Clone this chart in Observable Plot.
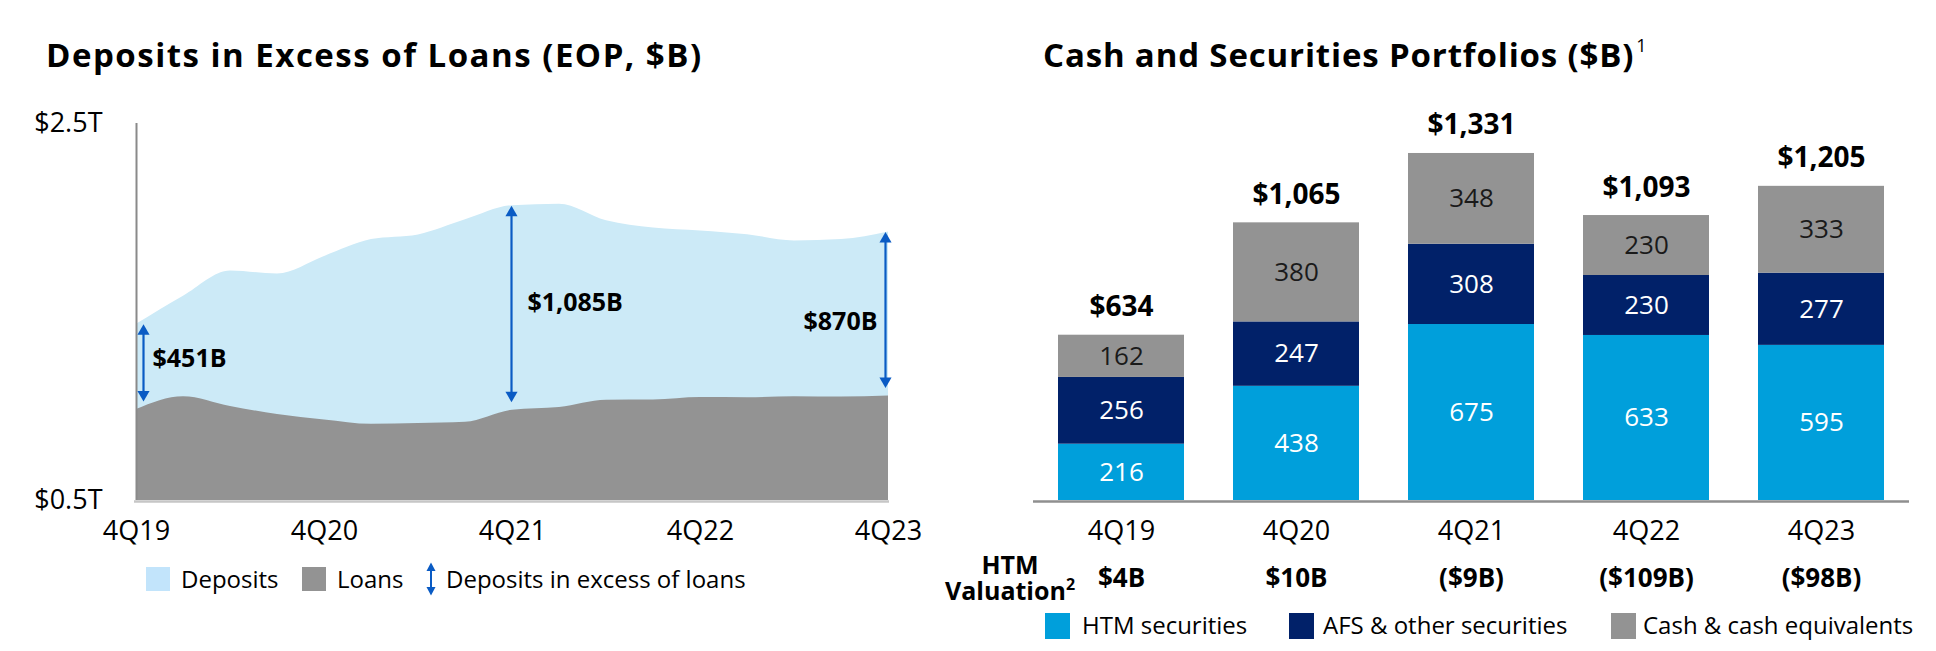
<!DOCTYPE html>
<html><head><meta charset="utf-8">
<script src="https://cdn.jsdelivr.net/npm/d3@7"></script>
<script src="https://cdn.jsdelivr.net/npm/@observablehq/plot@0.6"></script>
<style>
html,body{margin:0;padding:0;background:#fff;}
#root{position:relative;width:1936px;height:651px;overflow:hidden;font-family:"Open Sans",sans-serif;color:#000;}
.abs{position:absolute;white-space:nowrap;}
.title{font-size:33px;font-weight:700;line-height:33px;top:38px;}
.leg{font-size:24px;line-height:24px;}
.sw{position:absolute;}
#left,#right{position:absolute;}
#left{left:0;top:100px;}
#right{left:968px;top:100px;}
</style></head><body><div id="root">
<div class="abs title" style="left:46px;letter-spacing:1.5px;">Deposits in Excess of Loans (EOP, $B)</div>
<div class="abs title" style="left:1043px;letter-spacing:0.85px;">Cash and Securities Portfolios ($B)<span style="font-size:18px;font-weight:400;position:relative;top:-15px;margin-left:2px;">1</span></div>
<div id="left"></div>
<div id="right"></div>
<div class="abs" style="left:940px;width:140px;top:552px;text-align:center;font-size:25px;line-height:25px;font-weight:700;">HTM</div>
<div class="abs" style="left:940px;width:140px;top:578px;text-align:center;font-size:25px;line-height:25px;font-weight:700;">Valuation<span style="font-size:16px;position:relative;top:-10px;">2</span></div>
</div>
<script>
// ---------- Left chart data (EOP, $B) ----------
const quarters = ["4Q19","1Q20","2Q20","3Q20","4Q20","1Q21","2Q21","3Q21","4Q21","1Q22","2Q22","3Q22","4Q22","1Q23","2Q23","3Q23","4Q23"];
const deposits = [1435,1584,1718,1702,1795,1884,1909,1989,2064,2072,1984,1945,1930,1910,1877,1884,1924];
const loans    = [983,1051,999,956,927,904,908,915,979,993,1032,1033,1046,1045,1051,1049,1054];
const axisQuarters = ["4Q19","4Q20","4Q21","4Q22","4Q23"];
const yTicks = [500, 2500];
const yTickLabels = ["$0.5T", "$2.5T"];
const gapQuarters = ["4Q19","4Q21","4Q23"];
const gapLabels = ["$451B","$1,085B","$870B"];
const leftLegend = ["Deposits","Loans","Deposits in excess of loans"];

// ---------- Right chart data ($B) ----------
const barQuarters = ["4Q19","4Q20","4Q21","4Q22","4Q23"];
const htm  = [216, 438, 675, 633, 595];
const afs  = [256, 247, 308, 230, 277];
const cash = [162, 380, 348, 230, 333];
const seriesNames = ["HTM securities","AFS & other securities","Cash & cash equivalents"];
const htmValuation = ["$4B","$10B","($9B)","($109B)","($98B)"];

// ---------- styles ----------
const DEP = "#CCEAF7", LOAN = "#939393", ARROW = "#0A5BC4";
const COLORS = ["#009FDB", "#012169", "#939393"];
const FONT = "Open Sans";

// ---------- Left chart ----------
const areaRows = quarters.map((q, i) => ({q, dep: deposits[i], loan: loans[i]}));
const gapRows = gapQuarters.map((q, k) => {
  const i = quarters.indexOf(q);
  return {q, top: deposits[i], bot: loans[i], label: gapLabels[k]};
});
const arrowStyle = [
  {dx: 7, ldx: 16, ldy: -8, anchor: "start"},
  {dx: -1, ldx: 15, ldy: -5, anchor: "start"},
  {dx: -3, ldx: -11, ldy: 8, anchor: "end"}
];
const arrowMarks = gapRows.flatMap((r, k) => {
  const s = arrowStyle[k];
  return [
    Plot.ruleX([r], {x: "q", y1: "top", y2: "bot", stroke: ARROW, strokeWidth: 2.2, dx: s.dx, insetTop: 8, insetBottom: 16}),
    Plot.dot([r], {x: "q", y: "top", symbol: "triangle", r: 4.5, fill: ARROW, dx: s.dx, dy: 7}),
    Plot.dot([r], {x: "q", y: "bot", symbol: "triangle", r: 4.5, fill: ARROW, dx: s.dx, dy: -15, rotate: 180}),
    Plot.text([r], {x: "q", y: d => (d.top + d.bot) / 2, text: "label", dx: s.ldx, dy: s.ldy, textAnchor: s.anchor, fontSize: 25, fontWeight: 700, fill: "#000"})
  ];
});

const left = Plot.plot({
  width: 968, height: 460,
  marginLeft: 134, marginRight: 79, marginTop: 23, marginBottom: 60,
  style: {fontFamily: FONT, fontSize: "27px", color: "#000", background: "transparent", overflow: "visible"},
  x: {type: "point", domain: quarters, padding: 0, label: null},
  y: {domain: [500, 2500], label: null},
  marks: [
    Plot.areaY(areaRows, {x: "q", y1: 500, y2: "dep", fill: DEP, curve: "monotone-x"}),
    Plot.areaY(areaRows, {x: "q", y1: 500, y2: "loan", fill: LOAN, curve: "monotone-x"}),
    Plot.ruleY([500], {stroke: "#c6c6c6", strokeWidth: 2.5, dy: 1}),
    Plot.ruleX([quarters[0]], {y1: 500, y2: 2500, stroke: "#8a8a8a", strokeWidth: 2}),
    Plot.axisX({ticks: axisQuarters, tickSize: 0, tickPadding: 20, fontSize: 27, label: null}),
    Plot.axisY({ticks: yTicks, tickFormat: d => yTickLabels[yTicks.indexOf(d)], tickSize: 0, tickPadding: 32, fontSize: 27, label: null}),
    ...arrowMarks
  ]
});
document.getElementById("left").append(left);

// ---------- Right chart ----------
const seriesValues = [htm, afs, cash];
const rows = barQuarters.flatMap((q, i) => seriesNames.map((s, k) => ({q, s, v: seriesValues[k][i]})));
const labelRows = barQuarters.flatMap((q, i) => {
  let acc = 0;
  return seriesNames.map((s, k) => {
    const v = seriesValues[k][i];
    const mid = acc + v / 2; acc += v;
    return {q, v, mid, k};
  });
});
const totalRows = barQuarters.map((q, i) => ({q, t: htm[i] + afs[i] + cash[i]}));
const valRows = barQuarters.map((q, i) => ({q, v: htmValuation[i]}));

const right = Plot.plot({
  width: 968, height: 500,
  marginLeft: 65, marginRight: 27, marginTop: 23, marginBottom: 100,
  style: {fontFamily: FONT, fontSize: "27px", color: "#000", background: "transparent", overflow: "visible"},
  x: {type: "band", domain: barQuarters, paddingInner: 0.28, paddingOuter: 0.14, label: null},
  y: {domain: [0, 1446], axis: null},
  color: {domain: seriesNames, range: COLORS},
  marks: [
    Plot.barY(rows, {x: "q", y: "v", fill: "s"}),
    Plot.ruleY([0], {stroke: "#8f8f8f", strokeWidth: 2.5, dy: 1}),
    Plot.text(labelRows.filter(d => d.k < 2), {x: "q", y: "mid", text: d => String(d.v), fill: "#ffffff", fontSize: 26}),
    Plot.text(labelRows.filter(d => d.k === 2), {x: "q", y: "mid", text: d => String(d.v), fill: "#1a1a1a", fontSize: 26}),
    Plot.text(totalRows, {x: "q", y: "t", text: d => "$" + d3.format(",")(d.t), dy: -28, fontSize: 28, fontWeight: 700, fill: "#000"}),
    Plot.text(valRows, {x: "q", y: 0, text: "v", dy: 78, fontSize: 26, fontWeight: 700, fill: "#000"}),
    Plot.axisX({tickSize: 0, tickPadding: 20, fontSize: 27, label: null})
  ]
});
document.getElementById("right").append(right);

// ---------- Legends (HTML) ----------
const root = document.getElementById("root");
function addSwatch(x, y, w, h, color) {
  const d = document.createElement("div");
  d.className = "sw";
  Object.assign(d.style, {left: x + "px", top: y + "px", width: w + "px", height: h + "px", background: color});
  root.append(d);
}
function addText(x, y, t) {
  const d = document.createElement("div");
  d.className = "abs leg";
  d.style.left = x + "px"; d.style.top = y + "px";
  d.textContent = t;
  root.append(d);
}
addSwatch(146, 567, 24, 24, "#C2E4FB"); addText(181, 567, leftLegend[0]);
addSwatch(302, 567, 24, 24, LOAN); addText(337, 567, leftLegend[1]);
const icon = document.createElementNS("http://www.w3.org/2000/svg", "svg");
icon.setAttribute("width", "12"); icon.setAttribute("height", "34");
icon.style.position = "absolute"; icon.style.left = "425px"; icon.style.top = "562px";
icon.innerHTML = `<line x1="6" y1="8" x2="6" y2="26" stroke="${ARROW}" stroke-width="2"/><path d="M1.5,9 L6,0.5 L10.5,9Z" fill="${ARROW}"/><path d="M1.5,25 L6,33.5 L10.5,25Z" fill="${ARROW}"/>`;
root.append(icon);
addText(446, 567, leftLegend[2]);

const legX = [[1045, 1082], [1289, 1323], [1611, 1643]];
seriesNames.forEach((s, k) => {
  addSwatch(legX[k][0], 613, 25, 26, COLORS[k]);
  addText(legX[k][1], 613, s);
});
</script>
</body></html>
